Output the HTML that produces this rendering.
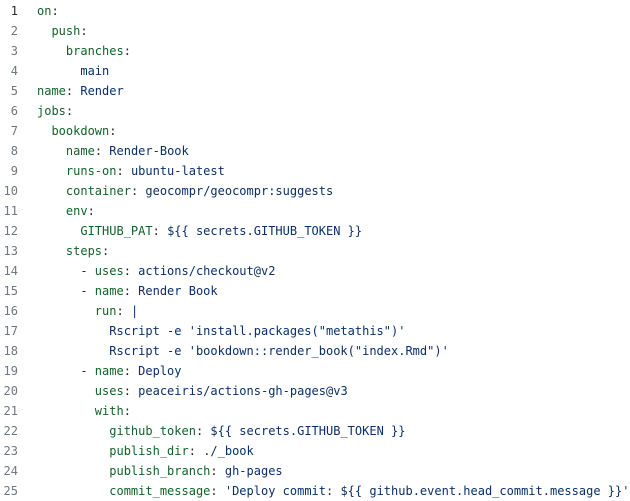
<!DOCTYPE html>
<html><head><style>
body{margin:0;background:#fff;width:630px;height:500px;overflow:hidden}
.c{font-family:"DejaVu Sans Mono","Liberation Mono",monospace;font-size:12px;line-height:20px;position:absolute;top:1px;left:0}
.r{white-space:pre;height:20px;position:relative}
.n{position:absolute;left:0;width:18px;text-align:right;color:#6e7781}
.n1{color:#24292f}
.t{position:absolute;left:37px;color:#24292f}
.k{color:#116329}.v{color:#0a3069}
</style></head><body><div class="c">
<div class="r"><span class="n n1">1</span><span class="t"><span class="k">on</span>:</span></div>
<div class="r"><span class="n">2</span><span class="t">  <span class="k">push</span>:</span></div>
<div class="r"><span class="n">3</span><span class="t">    <span class="k">branches</span>:</span></div>
<div class="r"><span class="n">4</span><span class="t">      <span class="v">main</span></span></div>
<div class="r"><span class="n">5</span><span class="t"><span class="k">name</span>: <span class="v">Render</span></span></div>
<div class="r"><span class="n">6</span><span class="t"><span class="k">jobs</span>:</span></div>
<div class="r"><span class="n">7</span><span class="t">  <span class="k">bookdown</span>:</span></div>
<div class="r"><span class="n">8</span><span class="t">    <span class="k">name</span>: <span class="v">Render-Book</span></span></div>
<div class="r"><span class="n">9</span><span class="t">    <span class="k">runs-on</span>: <span class="v">ubuntu-latest</span></span></div>
<div class="r"><span class="n">10</span><span class="t">    <span class="k">container</span>: <span class="v">geocompr/geocompr:suggests</span></span></div>
<div class="r"><span class="n">11</span><span class="t">    <span class="k">env</span>:</span></div>
<div class="r"><span class="n">12</span><span class="t">      <span class="k">GITHUB_PAT</span>: <span class="v">${{ secrets.GITHUB_TOKEN }}</span></span></div>
<div class="r"><span class="n">13</span><span class="t">    <span class="k">steps</span>:</span></div>
<div class="r"><span class="n">14</span><span class="t">      - <span class="k">uses</span>: <span class="v">actions/checkout@v2</span></span></div>
<div class="r"><span class="n">15</span><span class="t">      - <span class="k">name</span>: <span class="v">Render Book</span></span></div>
<div class="r"><span class="n">16</span><span class="t">        <span class="k">run</span>: <span class="v">|</span></span></div>
<div class="r"><span class="n">17</span><span class="t"><span class="v">          Rscript -e 'install.packages("metathis")'</span></span></div>
<div class="r"><span class="n">18</span><span class="t"><span class="v">          Rscript -e 'bookdown::render_book("index.Rmd")'</span></span></div>
<div class="r"><span class="n">19</span><span class="t">      - <span class="k">name</span>: <span class="v">Deploy</span></span></div>
<div class="r"><span class="n">20</span><span class="t">        <span class="k">uses</span>: <span class="v">peaceiris/actions-gh-pages@v3</span></span></div>
<div class="r"><span class="n">21</span><span class="t">        <span class="k">with</span>:</span></div>
<div class="r"><span class="n">22</span><span class="t">          <span class="k">github_token</span>: <span class="v">${{ secrets.GITHUB_TOKEN }}</span></span></div>
<div class="r"><span class="n">23</span><span class="t">          <span class="k">publish_dir</span>: <span class="v">./_book</span></span></div>
<div class="r"><span class="n">24</span><span class="t">          <span class="k">publish_branch</span>: <span class="v">gh-pages</span></span></div>
<div class="r"><span class="n">25</span><span class="t">          <span class="k">commit_message</span>: <span class="v">'Deploy commit: ${{ github.event.head_commit.message }}'</span></span></div>
</div></body></html>
